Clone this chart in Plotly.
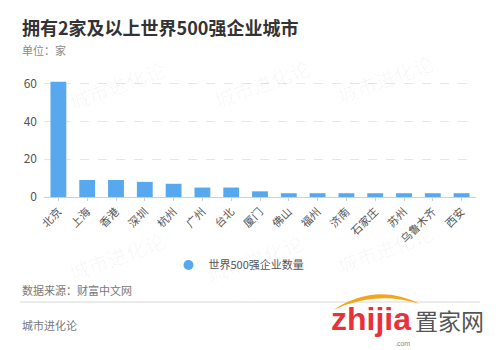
import plotly.graph_objects as go

cities = ["北京", "上海", "香港", "深圳", "杭州", "广州", "台北", "厦门", "佛山",
          "福州", "济南", "石家庄", "苏州", "乌鲁木齐", "西安"]
counts = [61, 9, 9, 8, 7, 5, 5, 3, 2, 2, 2, 2, 2, 2, 2]
series_name = "世界500强企业数量"
y_ticks = [0, 20, 40, 60]

W, H = 500, 350
L, R, T, B = 44, 24, 76, 153
FONT = "Noto Sans CJK SC"
BAR_COLOR = "#58a8ef"


def px(x):
    return (x - L) / (W - L - R)


def py(y):
    return (H - B - y) / (H - T - B)


fig = go.Figure()
fig.add_trace(go.Bar(
    x=cities, y=counts, name=series_name,
    marker=dict(color=BAR_COLOR, line=dict(width=0)),
    showlegend=False,
))
# round legend key for the bar series
fig.add_trace(go.Scatter(
    x=[None], y=[None], mode="markers", name=series_name,
    marker=dict(symbol="circle", size=10, color=BAR_COLOR),
    showlegend=True,
))

annotations = []
# faint repeated watermark
for (wx, wy) in [(62, 52), (262, 50), (440, 45), (62, 290), (255, 292), (440, 282)]:
    annotations.append(dict(x=px(wx), y=py(wy), xref="paper", yref="paper",
                            text="城市进化论", showarrow=False, textangle=-20,
                            font=dict(family=FONT, size=20, color="rgba(0,0,0,0.035)")))
    annotations.append(dict(x=px(wx + 8), y=py(wy + 20), xref="paper", yref="paper",
                            text="URBAN EVOLUTION", showarrow=False, textangle=-20,
                            font=dict(family="DejaVu Sans", size=8, color="rgba(0,0,0,0.035)")))

texts = [
    (20, 27, "<b>拥有2家及以上世界500强企业城市</b>", 18, "#333333"),
    (20, 50, "单位：家", 11, "#8a8a8a"),
    (20, 290, "数据来源：财富中文网", 11, "#777777"),
    (20, 325, "城市进化论", 11, "#777777"),
]
for x, y, t, s, c in texts:
    annotations.append(dict(x=px(x), y=py(y), xref="paper", yref="paper", text=t,
                            showarrow=False, xanchor="left", yanchor="middle",
                            font=dict(family=FONT, size=s, color=c)))

# site logo, lower right
annotations.append(dict(x=px(413), y=py(319), xref="paper", yref="paper",
                        text="<b>zhijia</b>", showarrow=False, xanchor="right",
                        yanchor="middle",
                        font=dict(family="Liberation Sans", size=32, color="#e8323a")))
annotations.append(dict(x=px(402), y=py(344), xref="paper", yref="paper",
                        text=".com", showarrow=False, xanchor="center", yanchor="middle",
                        font=dict(family="Liberation Sans", size=7, color="#888888")))
annotations.append(dict(x=px(413), y=py(320), xref="paper", yref="paper",
                        text="置家网", showarrow=False, xanchor="left", yanchor="middle",
                        font=dict(family=FONT, size=23, color="#555555")))

shapes = [
    dict(type="line", xref="paper", yref="paper", x0=px(20), x1=px(480),
         y0=py(302), y1=py(302), line=dict(color="#d8d8d8", width=1)),
    dict(type="path", xref="paper", yref="paper",
         path=f"M {px(333)},{py(310)} Q {px(376)},{py(282)} {px(420)},{py(304)} "
              f"Q {px(376)},{py(290)} {px(333)},{py(310)} Z",
         fillcolor="#f2a71b", line=dict(width=0)),
]

fig.update_layout(
    width=W, height=H,
    margin=dict(l=L, r=R, t=T, b=B),
    paper_bgcolor="white", plot_bgcolor="white",
    bargap=0.45,
    font=dict(family=FONT, size=11, color="#555555"),
    xaxis=dict(tickangle=-45, showgrid=False, showline=True, linecolor="#cfcfcf",
               linewidth=1, ticks="outside", ticklen=3, tickcolor="#cfcfcf",
               tickfont=dict(size=11, color="#555555"), fixedrange=True,
               range=[-0.5, len(cities) - 0.5]),
    yaxis=dict(range=[0, 64], tickvals=y_ticks, showgrid=True, gridcolor="#e6e6e6",
               griddash="dash", zeroline=False, showline=False,
               tickfont=dict(size=12, color="#555555"), ticklabelstandoff=6),
    legend=dict(orientation="h", x=px(239), xanchor="center", y=py(265), yanchor="middle",
                font=dict(size=11, color="#555555"), itemwidth=30),
    annotations=annotations,
    shapes=shapes,
)

fig.write_html("out.html")
